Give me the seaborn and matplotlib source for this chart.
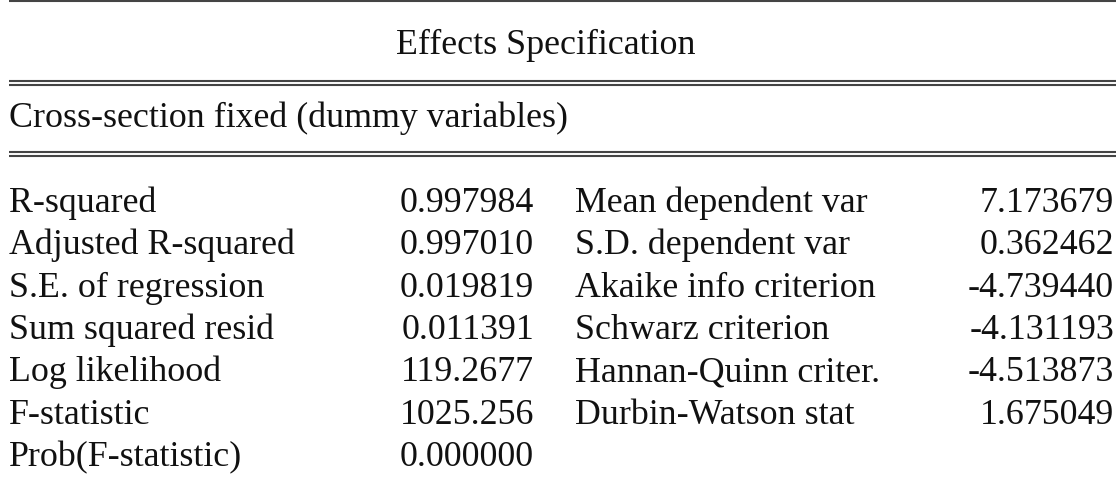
import matplotlib.pyplot as plt
import seaborn as sns

# Panel regression output (EViews style)
title = 'Effects Specification'
effects = 'Cross-section fixed (dummy variables)'

left_labels = ['R-squared', 'Adjusted R-squared', 'S.E. of regression',
               'Sum squared resid', 'Log likelihood', 'F-statistic',
               'Prob(F-statistic)']
left_values = ['0.997984', '0.997010', '0.019819', '0.011391',
               '119.2677', '1025.256', '0.000000']

right_labels = ['Mean dependent var', 'S.D. dependent var',
                'Akaike info criterion', 'Schwarz criterion',
                'Hannan-Quinn criter.', 'Durbin-Watson stat']
right_values = ['7.173679', '0.362462', '-4.739440', '-4.131193',
                '-4.513873', '1.675049']

sns.set_style('white')
plt.rcParams['font.family'] = 'serif'
plt.rcParams['font.serif'] = ['Liberation Serif', 'Times New Roman', 'DejaVu Serif']

fig = plt.figure(figsize=(11.18, 4.9), dpi=100)
ax = fig.add_axes([0, 0, 1, 1])
ax.set_xlim(0, 1118)
ax.set_ylim(490, 0)
ax.axis('off')

fs = 25.8
col = '#111111'
rule = '#444444'

# rules
ax.hlines(1, 9, 1116, color=rule, lw=1.5)
for y in (81, 85, 152, 156):
    ax.hlines(y, 9, 1116, color=rule, lw=1.5)

ax.text(546, 54, title, ha='center', va='baseline', fontsize=fs, color=col)
ax.text(9, 127, effects, ha='left', va='baseline', fontsize=fs, color=col)

row_y = [212 + i * 42.33 for i in range(len(left_labels))]
for y, lab, val in zip(row_y, left_labels, left_values):
    ax.text(9, y, lab, ha='left', va='baseline', fontsize=fs, color=col)
    ax.text(534, y, val, ha='right', va='baseline', fontsize=fs, color=col)
for y, lab, val in zip(row_y, right_labels, right_values):
    ax.text(575, y, lab, ha='left', va='baseline', fontsize=fs, color=col)
    ax.text(1114, y, val, ha='right', va='baseline', fontsize=fs, color=col)

fig.savefig('out.png', dpi=100, facecolor='white')
